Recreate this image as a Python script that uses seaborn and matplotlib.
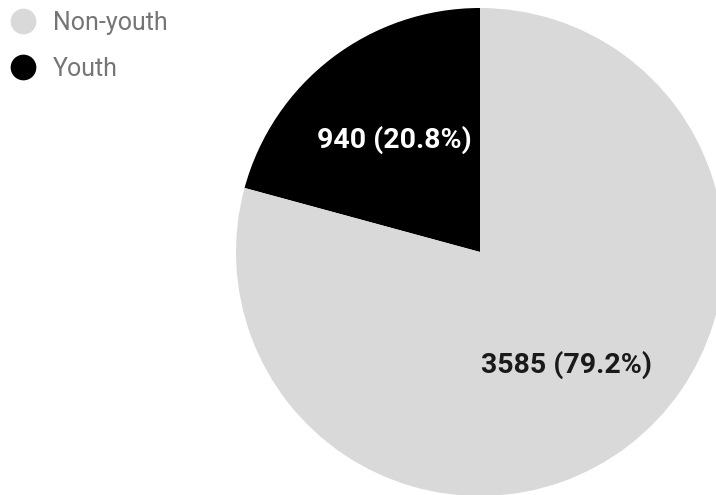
import numpy as np
import pandas as pd
import matplotlib
matplotlib.use("Agg")
import matplotlib.pyplot as plt
from matplotlib.lines import Line2D
import seaborn as sns

# data
labels = ["Youth", "Non-youth"]
counts = [940, 3585]
colors = ["#000000", "#d9d9d9"]
label_colors = ["#ffffff", "#1a1a1a"]
legend_order = ["Non-youth", "Youth"]

sns.set_theme(style="white")
plt.rcParams["font.family"] = ["Roboto", "DejaVu Sans"]

fig = plt.figure(figsize=(7.16, 4.95), dpi=100)
ax = fig.add_axes([0, 0, 1, 1])

total = sum(counts)


def fmt(pct):
    n = int(round(pct * total / 100.0))
    return f"{n} ({pct:.1f}%)"


wedges, texts, autotexts = ax.pie(
    counts,
    colors=colors,
    startangle=90,
    counterclock=True,
    center=(480, 495 - 252),
    radius=244,
    autopct=fmt,
    pctdistance=0.58,
    wedgeprops=dict(linewidth=0),
    textprops=dict(fontsize=20.5, fontweight="bold"),
)
for t, c in zip(autotexts, label_colors):
    t.set_color(c)

ax.set_xlim(0, 716)
ax.set_ylim(0, 495)
ax.set_aspect("equal")
ax.axis("off")

color_map = dict(zip(labels, colors))
handles = [
    Line2D([], [], marker="o", linestyle="none", markersize=18.5,
           markerfacecolor=color_map[l], markeredgewidth=0)
    for l in legend_order
]
leg = ax.legend(
    handles, legend_order,
    loc="upper left", bbox_to_anchor=(0.0, 0.998),
    frameon=False, fontsize=18, labelspacing=0.89,
    handletextpad=0.71, borderaxespad=0.0, handlelength=1.0,
)
for t in leg.get_texts():
    t.set_color("#757575")

fig.savefig("out.png", dpi=100)
